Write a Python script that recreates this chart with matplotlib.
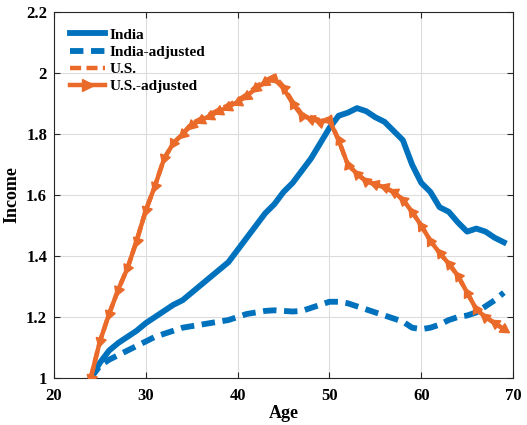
import matplotlib.pyplot as plt
import numpy as np

plt.rcParams['font.family'] = ['Liberation Serif', 'DejaVu Serif']
plt.rcParams['font.weight'] = 'bold'

ages = list(range(24, 70))

india = [1.00, 1.05, 1.09, 1.115, 1.135, 1.155, 1.18, 1.20, 1.22, 1.24,
         1.255, 1.28, 1.305, 1.33, 1.355, 1.38, 1.42, 1.46, 1.50, 1.54,
         1.57, 1.61, 1.64, 1.68, 1.72, 1.77, 1.82, 1.86, 1.87, 1.885,
         1.875, 1.855, 1.84, 1.81, 1.78, 1.70, 1.64, 1.61, 1.56, 1.545,
         1.51, 1.48, 1.49, 1.48, 1.46, 1.445]

india_adj = [1.00, 1.04, 1.06, 1.075, 1.09, 1.105, 1.12, 1.135, 1.145, 1.155,
             1.165, 1.17, 1.175, 1.18, 1.185, 1.19, 1.20, 1.21, 1.215, 1.22,
             1.222, 1.22, 1.218, 1.22, 1.23, 1.24, 1.25, 1.25, 1.245, 1.235,
             1.225, 1.215, 1.205, 1.195, 1.185, 1.165, 1.16, 1.165, 1.175, 1.19,
             1.20, 1.205, 1.215, 1.235, 1.255, 1.28]

us = [1.00, 1.12, 1.21, 1.29, 1.36, 1.45, 1.55, 1.63, 1.72, 1.77,
      1.80, 1.835, 1.85, 1.865, 1.88, 1.895, 1.91, 1.93, 1.955, 1.975,
      1.99, 1.955, 1.905, 1.865, 1.855, 1.845, 1.85, 1.78, 1.70, 1.67,
      1.645, 1.635, 1.625, 1.61, 1.585, 1.545, 1.50, 1.45, 1.41, 1.375,
      1.335, 1.28, 1.225, 1.20, 1.18, 1.16]

us_adj = [1.00, 1.12, 1.21, 1.29, 1.36, 1.45, 1.55, 1.63, 1.72, 1.77,
          1.80, 1.83, 1.845, 1.86, 1.875, 1.89, 1.905, 1.925, 1.95, 1.97,
          1.98, 1.95, 1.90, 1.86, 1.85, 1.84, 1.845, 1.78, 1.70, 1.67,
          1.645, 1.635, 1.625, 1.61, 1.585, 1.545, 1.50, 1.45, 1.41, 1.375,
          1.335, 1.28, 1.225, 1.20, 1.18, 1.16]

blue = '#0072BD'
orange = '#EA6A2A'

fig = plt.figure(figsize=(5.27, 4.25), dpi=100)
ax = fig.add_axes([0.1025, 0.1106, 0.871, 0.861])

ax.plot(ages, india, color=blue, lw=4.2, label='India', zorder=3)
ax.plot(ages, india_adj, color=blue, lw=4.2, ls=(0, (2.3, 1.3)), label='India-adjusted', zorder=3)
ax.plot(ages, us, color=orange, lw=3.2, ls=(0, (2.5, 1.2)), label='U.S.', zorder=4)
ax.plot(ages, us_adj, color=orange, lw=3.2, zorder=4)

ax.set_xlim(20, 70)
ax.set_ylim(1, 2.2)
ax.set_xticks(np.arange(20, 71, 10))
ax.set_yticks(np.arange(1, 2.21, 0.2))
ax.set_yticklabels(['1', '1.2', '1.4', '1.6', '1.8', '2', '2.2'])

# arrow-like triangles, each pointing back toward the previous point
pts = ax.transData.transform(np.column_stack([ages, us_adj]))
for i in range(len(pts)):
    if i == 0:
        d = pts[0] - pts[1]
    elif i == len(pts) - 1:
        d = pts[i] - pts[i - 1]
    else:
        d = pts[i - 1] - pts[i]
    ang = np.degrees(np.arctan2(d[1], d[0])) - 90
    ax.plot(ages[i], us_adj[i], marker=(3, 0, ang), ms=8.5, color=orange,
            mec=orange, ls='none', zorder=5)

ax.plot([], [], color=orange, lw=3.2, marker='>', ms=8.5, label='U.S.-adjusted')

ax.grid(True, color='#dcdcdc', lw=0.8)
ax.set_axisbelow(True)
ax.tick_params(direction='in', top=True, right=True, labelsize=12, length=4,
               width=0.8, color='#262626')
ax.tick_params(axis='x', pad=7)
ax.tick_params(axis='y', pad=5)
for lab in ax.get_xticklabels() + ax.get_yticklabels():
    lab.set_fontweight('bold')
for s in ax.spines.values():
    s.set_color('#262626')
    s.set_linewidth(0.8)

ax.set_xlabel('Age', fontsize=13, fontweight='bold', labelpad=1)
ax.set_ylabel('Income', fontsize=13, fontweight='bold', labelpad=4)

leg = ax.legend(loc='upper left', frameon=False, fontsize=11, handlelength=2.3,
                borderaxespad=0.65, labelspacing=0.22, handletextpad=0.3)
for t in leg.get_texts():
    t.set_fontweight('bold')

fig.savefig('out.png', dpi=100)
